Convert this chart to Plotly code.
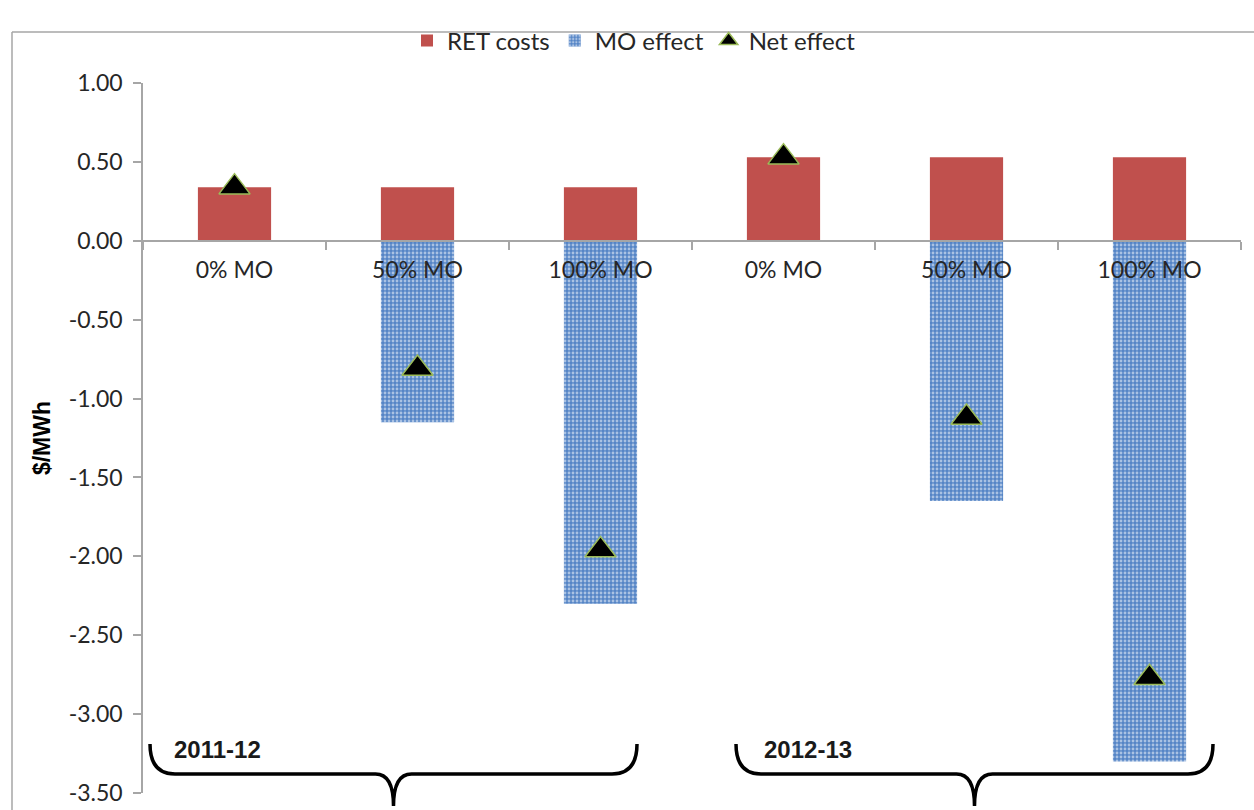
import plotly.graph_objects as go

# Scenario labels (two financial years, three merit-order scenarios each)
scenarios = ["0% MO", "50% MO", "100% MO", "0% MO", "50% MO", "100% MO"]
years = ["2011-12", "2012-13"]

# $/MWh values
ret_costs = [0.34, 0.34, 0.34, 0.53, 0.53, 0.53]
mo_effect = [0.0, -1.15, -2.30, 0.0, -1.65, -3.30]
net_effect = [0.34, -0.81, -1.96, 0.53, -1.12, -2.77]

y_tickvals = [1.0, 0.5, 0.0, -0.5, -1.0, -1.5, -2.0, -2.5, -3.0, -3.5]
y_ticktext = ["1.00", "0.50", "0.00", "-0.50", "-1.00", "-1.50", "-2.00", "-2.50", "-3.00", "-3.50"]

W, H = 1254, 810
L, R, T, B = 143, 13, 83, 17
PW, PH = W - L - R, H - T - B


def xp(px):
    return (px - L) / PW


def yp(py):
    return (H - B - py) / PH


FONT = "Lato"
TXT = "#262626"
xs = list(range(len(scenarios)))

fig = go.Figure()
fig.add_trace(go.Bar(
    x=xs, y=ret_costs, name="RET costs", width=0.4,
    marker=dict(color="#c0504d", line=dict(width=0)),
))
fig.add_trace(go.Bar(
    x=xs, y=mo_effect, name="MO effect", width=0.4,
    marker=dict(
        color="#4f81bd", line=dict(width=0),
        pattern=dict(shape=".", fgcolor="white", bgcolor="#5585c6", size=4, solidity=0.4),
    ),
))
fig.add_trace(go.Scatter(
    x=xs, y=net_effect, name="Net effect", mode="markers",
    marker=dict(symbol="triangle-up", size=27, color="black",
                line=dict(color="#9bbb59", width=1.5)),
))

# curly braces grouping the scenarios by year
def brace(x0, x1, top=744, mid=774, tip=806):
    c = (x0 + x1) / 2
    pts = (f"M {xp(x0)},{yp(top)} Q {xp(x0)},{yp(mid)} {xp(x0 + 25)},{yp(mid)} "
           f"L {xp(c - 18)},{yp(mid)} Q {xp(c)},{yp(mid)} {xp(c)},{yp(tip)} "
           f"Q {xp(c)},{yp(mid)} {xp(c + 18)},{yp(mid)} "
           f"L {xp(x1 - 25)},{yp(mid)} Q {xp(x1)},{yp(mid)} {xp(x1)},{yp(top)}")
    return dict(type="path", xref="paper", yref="paper", path=pts,
                line=dict(color="black", width=3.5), layer="above")


shapes = [
    brace(150, 637),
    brace(736, 1213),
    # outer frame
    dict(type="line", xref="paper", yref="paper", x0=xp(12), x1=xp(12), y0=yp(32), y1=yp(812),
         line=dict(color="#a6a6a6", width=1.5)),
    dict(type="line", xref="paper", yref="paper", x0=xp(12), x1=xp(1256), y0=yp(32), y1=yp(32),
         line=dict(color="#a6a6a6", width=1.5)),
]

annotations = [
    dict(text=f"<b>{years[0]}</b>", x=xp(172), y=yp(749), xref="paper", yref="paper",
         xanchor="left", yanchor="middle", showarrow=False,
         font=dict(family="Liberation Sans", size=24, color="#1a1a1a")),
    dict(text=f"<b>{years[1]}</b>", x=xp(762), y=yp(749), xref="paper", yref="paper",
         xanchor="left", yanchor="middle", showarrow=False,
         font=dict(family="Liberation Sans", size=24, color="#1a1a1a")),
]

fig.update_layout(
    width=W, height=H,
    margin=dict(l=L, r=R, t=T, b=B, autoexpand=False),
    paper_bgcolor="white", plot_bgcolor="white",
    barmode="relative", bargap=0.6,
    font=dict(family=FONT, size=23, color=TXT),
    showlegend=True,
    legend=dict(orientation="h", x=xp(634), xanchor="center", y=yp(41), yanchor="middle",
                font=dict(family=FONT, size=24, color=TXT),
                bgcolor="rgba(0,0,0,0)", itemwidth=30, traceorder="normal"),
    xaxis=dict(
        range=[-0.5, 5.5], tickmode="array", tickvals=xs, ticktext=scenarios,
        anchor="free", position=3.5 / 4.5, showline=True, linecolor="#a6a6a6", linewidth=1.5,
        showgrid=False, zeroline=False, ticks="", ticklabelstandoff=9,
        tickfont=dict(family=FONT, size=23, color=TXT),
        minor=dict(ticks="outside", tick0=0.5, dtick=1, ticklen=8, tickcolor="#a6a6a6",
                   tickwidth=1.5, showgrid=False),
    ),
    yaxis=dict(
        range=[-3.5, 1.0], tickmode="array", tickvals=y_tickvals, ticktext=y_ticktext,
        showline=True, linecolor="#a6a6a6", linewidth=1.5, showgrid=False, zeroline=False,
        ticks="outside", ticklen=8, tickcolor="#a6a6a6", tickwidth=1.5, ticklabelstandoff=6,
        tickfont=dict(family=FONT, size=23, color=TXT),
        title=dict(text="<b>$/MWh</b>", standoff=12,
                   font=dict(family="Liberation Sans", size=23, color="black")),
    ),
    shapes=shapes,
    annotations=annotations,
)

fig.write_html("out.html")
